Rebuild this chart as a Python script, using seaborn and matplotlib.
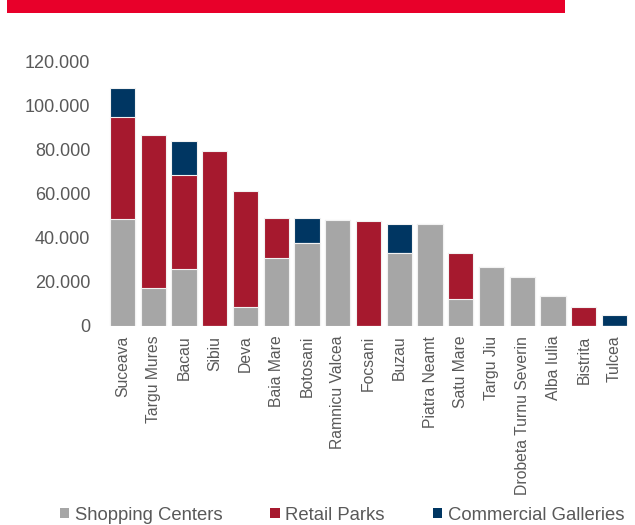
import matplotlib
matplotlib.use("Agg")
import matplotlib.pyplot as plt
from matplotlib.patches import Patch, Rectangle
from matplotlib.ticker import FuncFormatter, MultipleLocator
import pandas as pd
import seaborn as sns

cities = ["Suceava", "Targu Mures", "Bacau", "Sibiu", "Deva", "Baia Mare",
          "Botosani", "Ramnicu Valcea", "Focsani", "Buzau", "Piatra Neamt",
          "Satu Mare", "Targu Jiu", "Drobeta Turnu Severin", "Alba Iulia",
          "Bistrita", "Tulcea"]
shopping_centers = [48400, 17300, 25800, 0, 8700, 30900, 37400, 47900, 0,
                    32900, 46100, 12400, 26800, 22400, 13700, 0, 0]
retail_parks = [46200, 69200, 42800, 79300, 52600, 18200, 0, 0, 47500,
                0, 0, 20800, 0, 0, 0, 8600, 0]
commercial_galleries = [13100, 0, 15000, 0, 0, 0, 11600, 0, 0,
                        13400, 0, 0, 0, 0, 0, 0, 4800]
series_names = ["Shopping Centers", "Retail Parks", "Commercial Galleries"]
series_colors = ["#A6A6A6", "#A6192E", "#003662"]
text_color = "#595959"

df = pd.DataFrame({
    "city": cities,
    "sc": shopping_centers,
    "rp": retail_parks,
    "cg": commercial_galleries,
})
df["lvl1"] = df["sc"]
df["lvl2"] = df["sc"] + df["rp"]
df["lvl3"] = df["lvl2"] + df["cg"]

sns.set_theme(style="white")
plt.rcParams["font.family"] = ["Liberation Sans", "DejaVu Sans"]

fig = plt.figure(figsize=(6.35, 5.25), dpi=100)
ax = fig.add_axes([107 / 635, 199 / 525, 523 / 635, 265 / 525])

# stacked bars drawn as cumulative totals, tallest layer first
for col, color in [("lvl3", series_colors[2]), ("lvl2", series_colors[1]),
                   ("lvl1", series_colors[0])]:
    sns.barplot(data=df, x="city", y=col, color=color, saturation=1,
                width=0.82, edgecolor="#f2f2f2", linewidth=0.8, ax=ax,
                order=cities)

ax.set_xlim(-0.5, len(cities) - 0.5)
ax.set_ylim(0, 120000)
ax.yaxis.set_major_locator(MultipleLocator(20000))
ax.yaxis.set_major_formatter(
    FuncFormatter(lambda v, _: f"{int(round(v)):,}".replace(",", ".")))
ax.set_xlabel("")
ax.set_ylabel("")
ax.tick_params(axis="y", length=0, pad=12, labelsize=13, labelcolor=text_color)
ax.tick_params(axis="x", length=0, pad=7, labelsize=11.3, labelcolor=text_color,
               rotation=90)
for s in ax.spines.values():
    s.set_visible(False)
ax.grid(False)

handles = [Patch(facecolor=c, edgecolor="none") for c in series_colors]
fig.legend(handles, series_names, loc="center", bbox_to_anchor=(342 / 635, 10 / 525),
           ncol=3, frameon=False, fontsize=13.3, handlelength=0.5,
           handleheight=0.5, handletextpad=0.3, columnspacing=2.6,
           labelcolor=text_color, borderaxespad=0, borderpad=0)

# header band
fig.patches.append(Rectangle((7 / 635, 512 / 525), 558 / 635, 13 / 525,
                             transform=fig.transFigure, facecolor="#E8002A",
                             edgecolor="none"))

fig.savefig("out.png", dpi=100)
